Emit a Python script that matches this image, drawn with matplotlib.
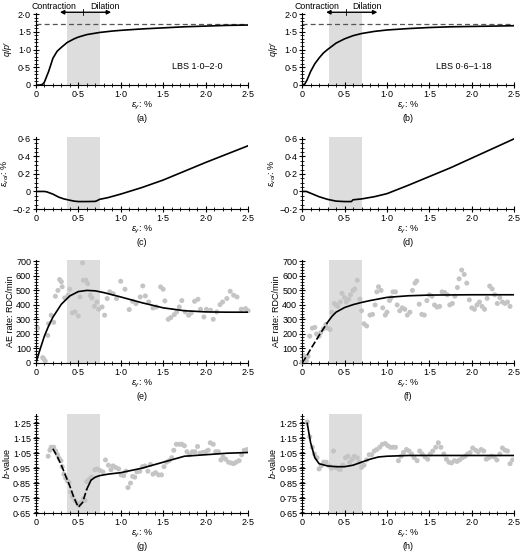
import numpy as np
import matplotlib.pyplot as plt
from matplotlib.ticker import MultipleLocator, FuncFormatter

plt.rcParams['font.family'] = ['Liberation Sans', 'DejaVu Sans']
plt.rcParams['font.size'] = 6.5
plt.rcParams['mathtext.fontset'] = 'custom'
plt.rcParams['mathtext.it'] = 'Liberation Sans:italic'
plt.rcParams['mathtext.rm'] = 'Liberation Sans'

# shaded transition zones
shade_left = (0.37, 0.75)
shade_right = (0.32, 0.71)
q_crit = 1.72

# (a) q/p' - LBS 1.0-2.0
qa_x = [0, 0.05, 0.08, 0.1, 0.12, 0.15, 0.18, 0.2, 0.25, 0.3, 0.37, 0.45, 0.5, 0.6, 0.75, 0.9, 1.0, 1.25, 1.5, 1.75, 2.0, 2.25, 2.5]
qa_y = [0, 0.0, 0.02, 0.08, 0.2, 0.38, 0.6, 0.75, 0.95, 1.06, 1.2, 1.3, 1.35, 1.42, 1.48, 1.52, 1.54, 1.58, 1.61, 1.64, 1.66, 1.68, 1.69]
# (b) q/p' - LBS 0.6-1.18
qb_x = [0, 0.03, 0.06, 0.1, 0.15, 0.2, 0.25, 0.3, 0.4, 0.5, 0.6, 0.7, 0.85, 1.0, 1.25, 1.5, 1.75, 2.0, 2.25, 2.5]
qb_y = [0, 0.02, 0.15, 0.38, 0.6, 0.76, 0.9, 1.0, 1.18, 1.3, 1.39, 1.45, 1.51, 1.55, 1.59, 1.62, 1.64, 1.65, 1.66, 1.67]

# (c), (d) volumetric strain
va_x = [0, 0.1, 0.13, 0.2, 0.27, 0.33, 0.4, 0.45, 0.5, 0.6, 0.7, 0.72, 0.75, 0.85, 1.0, 1.25, 1.5, 1.75, 2.0, 2.25, 2.5]
va_y = [0, 0, -0.005, -0.03, -0.065, -0.085, -0.1, -0.11, -0.115, -0.115, -0.113, -0.105, -0.09, -0.07, -0.03, 0.045, 0.13, 0.23, 0.33, 0.425, 0.52]
vb_x = [0, 0.05, 0.1, 0.2, 0.3, 0.4, 0.5, 0.58, 0.6, 0.7, 0.85, 1.0, 1.25, 1.5, 1.75, 2.0, 2.25, 2.5]
vb_y = [0, 0, -0.02, -0.06, -0.09, -0.11, -0.115, -0.115, -0.095, -0.085, -0.06, -0.025, 0.07, 0.17, 0.27, 0.38, 0.49, 0.6]

# (e) AE rate - LBS 1.0-2.0
ea_px = [0.02, 0.08, 0.09, 0.11, 0.14, 0.15, 0.18, 0.21, 0.23, 0.26, 0.28, 0.30, 0.31, 0.34, 0.38, 0.40, 0.43, 0.46, 0.50, 0.52,
         0.55, 0.56, 0.59, 0.61, 0.64, 0.66, 0.69, 0.72, 0.74, 0.78, 0.81, 0.84, 0.87, 0.91, 0.95, 1.00, 1.05, 1.10, 1.14, 1.18,
         1.23, 1.26, 1.29, 1.33, 1.38, 1.42, 1.47, 1.50, 1.52, 1.56, 1.59, 1.63, 1.66, 1.69, 1.72, 1.76, 1.80, 1.83, 1.87, 1.91,
         1.94, 1.98, 2.01, 2.06, 2.09, 2.13, 2.17, 2.20, 2.25, 2.29, 2.33, 2.37, 2.42, 2.47, 2.50]
ea_py = [240, 37, 30, 14, 190, 271, 329, 280, 460, 500, 575, 560, 525, 448, 467, 508, 345, 352, 324, 455,
         690, 570, 570, 547, 467, 448, 391, 420, 370, 386, 329, 444, 490, 478, 444, 563, 508, 368, 425, 409,
         455, 531, 462, 420, 379, 386, 524, 508, 428, 301, 313, 333, 352, 386, 430, 352, 329, 345, 425, 439,
         370, 317, 370, 363, 301, 352, 402, 420, 444, 494, 467, 455, 370, 375, 360]
ea_cx = [0, 0.05, 0.1, 0.15, 0.2, 0.3, 0.4, 0.5, 0.6, 0.7, 0.8, 0.9, 1.0, 1.25, 1.5, 1.75, 2.0, 2.25, 2.5]
ea_cy = [0, 95, 185, 255, 315, 405, 462, 492, 500, 497, 485, 470, 455, 415, 380, 360, 352, 350, 350]

# (f) AE rate - LBS 0.6-1.18
eb_px = [0.0, 0.02, 0.05, 0.07, 0.09, 0.12, 0.15, 0.17, 0.2, 0.22, 0.25, 0.28, 0.3, 0.33, 0.35, 0.38, 0.4, 0.42, 0.45, 0.47,
         0.5, 0.52, 0.55, 0.57, 0.6, 0.62, 0.65, 0.68, 0.7, 0.73, 0.76, 0.8, 0.83, 0.86, 0.88, 0.9, 0.93, 0.95, 0.98, 1.0,
         1.03, 1.05, 1.07, 1.1, 1.12, 1.15, 1.18, 1.21, 1.24, 1.27, 1.3, 1.33, 1.35, 1.38, 1.41, 1.44, 1.47, 1.5, 1.53, 1.56,
         1.59, 1.62, 1.65, 1.68, 1.71, 1.74, 1.77, 1.8, 1.83, 1.85, 1.88, 1.91, 1.94, 1.97, 2.0, 2.03, 2.06, 2.09, 2.12, 2.15,
         2.18, 2.21, 2.24, 2.27, 2.3, 2.33, 2.36, 2.39, 2.42, 2.45]
eb_py = [5, 50, 15, 45, 185, 240, 245, 200, 185, 210, 235, 265, 240, 230, 350, 410, 400, 390, 420, 480,
         450, 420, 440, 470, 500, 510, 570, 440, 360, 270, 255, 330, 335, 400, 490, 525, 500, 380, 330, 350,
         430, 450, 490, 490, 400, 360, 380, 370, 330, 350, 500, 550, 565, 405, 335, 330, 430, 470, 460, 400,
         385, 390, 490, 485, 470, 400, 410, 460, 520, 580, 640, 610, 550, 435, 380, 370, 400, 420, 390, 370,
         445, 530, 510, 470, 410, 450, 420, 410, 420, 390]
eb_cx = [0, 0.05, 0.1, 0.2, 0.3, 0.35, 0.4, 0.5, 0.6, 0.7, 0.8, 1.0, 1.25, 1.5, 2.0, 2.5]
eb_cy = [0, 45, 95, 190, 280, 320, 350, 382, 402, 417, 430, 452, 463, 468, 470, 470]
eb_dash_end = 4  # index where fitted curve turns solid

# (g) b-value - LBS 1.0-2.0
ba_px = [0.145, 0.165, 0.18, 0.21, 0.235, 0.255, 0.275, 0.295, 0.31, 0.33, 0.35, 0.37, 0.39, 0.41, 0.43, 0.46, 0.49, 0.51, 0.53, 0.56,
         0.58, 0.60, 0.63, 0.655, 0.695, 0.725, 0.755, 0.79, 0.82, 0.855, 0.885, 0.91, 0.94, 0.975, 1.005, 1.035, 1.06, 1.085, 1.115, 1.14,
         1.165, 1.19, 1.225, 1.255, 1.285, 1.32, 1.35, 1.38, 1.41, 1.445, 1.48, 1.51, 1.54, 1.57, 1.60, 1.625, 1.655, 1.69, 1.72, 1.75,
         1.78, 1.81, 1.845, 1.875, 1.905, 1.935, 1.965, 2.0, 2.03, 2.055, 2.09, 2.12, 2.15, 2.18, 2.205, 2.235, 2.27, 2.30, 2.33, 2.36,
         2.395, 2.425, 2.455, 2.49]
ba_py = [1.03, 1.07, 1.09, 1.09, 1.065, 1.04, 1.015, 1.0, 0.96, 0.91, 0.885, 0.865, 0.855, 0.79, 0.76, 0.735, 0.715, 0.70, 0.72, 0.745,
         0.735, 0.86, 0.875, 0.89, 0.94, 0.945, 0.935, 0.925, 1.005, 0.97, 0.94, 0.965, 0.955, 0.945, 0.905, 0.90, 0.93, 0.82, 0.85, 0.895,
         0.89, 0.925, 0.93, 0.96, 0.965, 0.93, 0.975, 0.91, 0.92, 0.905, 0.905, 0.96, 0.99, 1.0, 1.02, 1.07, 1.11, 1.11, 1.11, 1.10,
         1.06, 1.04, 1.06, 1.06, 1.095, 1.05, 1.055, 1.06, 1.07, 1.12, 1.11, 1.06, 1.06, 1.005, 1.025, 1.01, 0.99, 0.985, 0.98, 0.99,
         1.0, 1.04, 1.07, 1.075]
ba_cx = [0.2, 0.25, 0.3, 0.35, 0.4, 0.45, 0.5, 0.55, 0.6, 0.65, 0.7, 0.75, 0.85, 1.0, 1.25, 1.5, 1.75, 2.0, 2.25, 2.5]
ba_cy = [1.08, 1.03, 0.97, 0.90, 0.83, 0.75, 0.69, 0.72, 0.81, 0.87, 0.89, 0.90, 0.91, 0.92, 0.95, 0.99, 1.03, 1.04, 1.05, 1.055]
ba_dash_end = 8

# (h) b-value - LBS 0.6-1.18
bb_px = [0.06, 0.09, 0.12, 0.145, 0.175, 0.20, 0.225, 0.255, 0.285, 0.32, 0.345, 0.37, 0.395, 0.43, 0.45, 0.48, 0.51, 0.54, 0.56, 0.59,
         0.615, 0.65, 0.675, 0.70, 0.73, 0.76, 0.79, 0.82, 0.85, 0.88, 0.915, 0.945, 0.98, 1.01, 1.04, 1.07, 1.10, 1.135, 1.165, 1.195,
         1.23, 1.26, 1.29, 1.32, 1.355, 1.385, 1.415, 1.45, 1.48, 1.51, 1.54, 1.575, 1.605, 1.635, 1.67, 1.70, 1.73, 1.76, 1.795, 1.825,
         1.855, 1.89, 1.92, 1.95, 1.98, 2.01, 2.045, 2.075, 2.11, 2.14, 2.17, 2.20, 2.23, 2.265, 2.295, 2.33, 2.36, 2.39, 2.42, 2.45, 2.48]
bb_py = [1.26, 1.16, 1.09, 1.045, 1.02, 0.945, 0.965, 0.99, 0.99, 0.965, 0.95, 1.065, 0.955, 0.945, 0.94, 0.97, 1.02, 1.03, 0.99, 1.01,
         1.03, 1.02, 0.99, 0.955, 0.97, 1.005, 1.04, 1.04, 1.065, 1.075, 1.09, 1.11, 1.115, 1.10, 1.09, 1.09, 1.09, 1.0, 1.03, 1.055,
         1.075, 1.065, 1.045, 1.02, 1.0, 1.065, 1.045, 1.025, 1.01, 1.045, 1.065, 1.09, 1.12, 1.09, 1.045, 1.01, 0.99, 0.985, 1.0, 0.995,
         1.005, 1.02, 1.03, 1.045, 1.055, 1.085, 1.07, 1.06, 1.075, 1.065, 1.01, 1.02, 1.03, 1.025, 1.005, 1.045, 1.085, 1.07, 1.065, 0.98, 1.005]
bb_cx = [0.06, 0.1, 0.15, 0.2, 0.3, 0.4, 0.5, 0.6, 0.7, 0.8, 0.9, 1.0, 1.25, 1.5, 2.0, 2.5]
bb_cy = [1.25, 1.12, 1.02, 0.98, 0.965, 0.96, 0.96, 0.97, 0.99, 1.01, 1.025, 1.03, 1.035, 1.035, 1.035, 1.035]

panel_labels = ['(a)', '(b)', '(c)', '(d)', '(e)', '(f)', '(g)', '(h)']
grey_pts = '#c4c4c4'
grey_zone = '#dddddd'


def dot_fmt(decimals):
    def f(v, pos):
        if abs(v) < 1e-9:
            return '0'
        s = f'{v:.{decimals}f}'.replace('.', '\u00b7').replace('-', '\u2212')
        return s
    return FuncFormatter(f)


def style_axis(ax, ylim, ymaj, ymin, ydec, label, zone):
    ax.axvspan(zone[0], zone[1], color=grey_zone, lw=0, zorder=0)
    ax.set_xlim(0, 2.5)
    ax.set_ylim(*ylim)
    for s in ['top', 'right']:
        ax.spines[s].set_visible(False)
    for s in ['left', 'bottom']:
        ax.spines[s].set_linewidth(0.8)
    ax.xaxis.set_major_locator(MultipleLocator(0.5))
    ax.xaxis.set_minor_locator(MultipleLocator(0.1))
    ax.yaxis.set_major_locator(MultipleLocator(ymaj))
    ax.yaxis.set_minor_locator(MultipleLocator(ymin))
    ax.xaxis.set_major_formatter(dot_fmt(1))
    ax.yaxis.set_major_formatter(dot_fmt(ydec))
    ax.tick_params(which='major', direction='inout', length=4, width=0.8, labelsize=6.5, pad=1.5)
    ax.tick_params(which='minor', direction='inout', length=2.5, width=0.6)
    ax.set_xlabel('$\\varepsilon_{\\gamma}$: %\n' + label, fontsize=6.5, linespacing=1.3, labelpad=1)


fig = plt.figure(figsize=(5.2, 5.54), dpi=100)
lefts = [0.069, 0.581]
w = 0.408
rows = [(0.8466, 0.130), (0.6227, 0.130), (0.3448, 0.186), (0.0740, 0.178)]
axes = []
for r, (b, h) in enumerate(rows):
    for c in range(2):
        axes.append(fig.add_axes([lefts[c], b, w, h]))

zones = [shade_left, shade_right]

# row 1
for i, (xs, ys, name) in enumerate([(qa_x, qa_y, 'LBS 1\u00b70\u20132\u00b70'), (qb_x, qb_y, 'LBS 0\u00b76\u20131\u00b718')]):
    ax = axes[i]
    style_axis(ax, (0, 2.03), 0.5, 0.1, 1, panel_labels[i], zones[i])
    ax.axhline(q_crit, color='#555555', lw=0.9, ls=(0, (4, 2.5)), zorder=1)
    ax.plot(xs, ys, color='black', lw=1.2, zorder=3)
    ax.set_ylabel("$q/p\u2032$", fontsize=6.5, labelpad=3)
    ax.text(1.9, 0.45, name, fontsize=6.5, ha='center')
    ax.yaxis.set_major_formatter(dot_fmt(1))
    mid = (zones[i][0] + zones[i][1]) / 2
    ax.annotate('', xy=(0.25, 2.05), xytext=(0.92, 2.05), xycoords='data',
                arrowprops=dict(arrowstyle='<|-|>', color='black', lw=1.0, mutation_scale=6),
                annotation_clip=False)
    ax.plot([mid, mid], [1.98, 2.13], color='black', lw=0.6, clip_on=False)
    ax.text(mid - 0.08, 2.22, 'Contraction', ha='right', va='center', fontsize=6.3)
    ax.text(mid + 0.08, 2.22, 'Dilation', ha='left', va='center', fontsize=6.3)

# row 2
for i, (xs, ys) in enumerate([(va_x, va_y), (vb_x, vb_y)]):
    ax = axes[2 + i]
    style_axis(ax, (-0.2, 0.62), 0.2, 0.05, 1, panel_labels[2 + i], zones[i])
    ax.plot(xs, ys, color='black', lw=1.2, zorder=3)
    ax.set_ylabel('$\\varepsilon_{vol}$: %', fontsize=6.5, labelpad=1)

# row 3
ae = [(ea_px, ea_py, ea_cx, ea_cy, 0), (eb_px, eb_py, eb_cx, eb_cy, eb_dash_end)]
for i, (px, py, cx, cy, d) in enumerate(ae):
    ax = axes[4 + i]
    style_axis(ax, (0, 710), 100, 20, 0, panel_labels[4 + i], zones[i])
    ax.scatter(px, py, s=13, color=grey_pts, edgecolors='none', zorder=2, clip_on=False)
    if d:
        ax.plot(cx[:d + 1], cy[:d + 1], color='black', lw=1.2, ls=(0, (4, 1.5)), zorder=3)
    ax.plot(cx[d:], cy[d:], color='black', lw=1.2, zorder=3)
    ax.set_ylabel('AE rate: RDC/min', fontsize=6.5, labelpad=1)

# row 4
bv = [(ba_px, ba_py, ba_cx, ba_cy, ba_dash_end), (bb_px, bb_py, bb_cx, bb_cy, 0)]
for i, (px, py, cx, cy, d) in enumerate(bv):
    ax = axes[6 + i]
    style_axis(ax, (0.65, 1.31), 0.1, 0.02, 2, panel_labels[6 + i], zones[i])
    if d:
        ax.plot(cx[:d + 1], cy[:d + 1], color='black', lw=1.2, ls=(0, (4, 1.5)), zorder=3)
    ax.plot(cx[d:], cy[d:], color='black', lw=1.2, zorder=3)
    ax.scatter(px, py, s=13, color=grey_pts, edgecolors='none', zorder=2)
    ax.set_yticks(np.arange(0.65, 1.30, 0.1))
    ax.set_ylabel('$b$-value', fontsize=6.5, labelpad=1)

fig.savefig('out.png', dpi=100)
